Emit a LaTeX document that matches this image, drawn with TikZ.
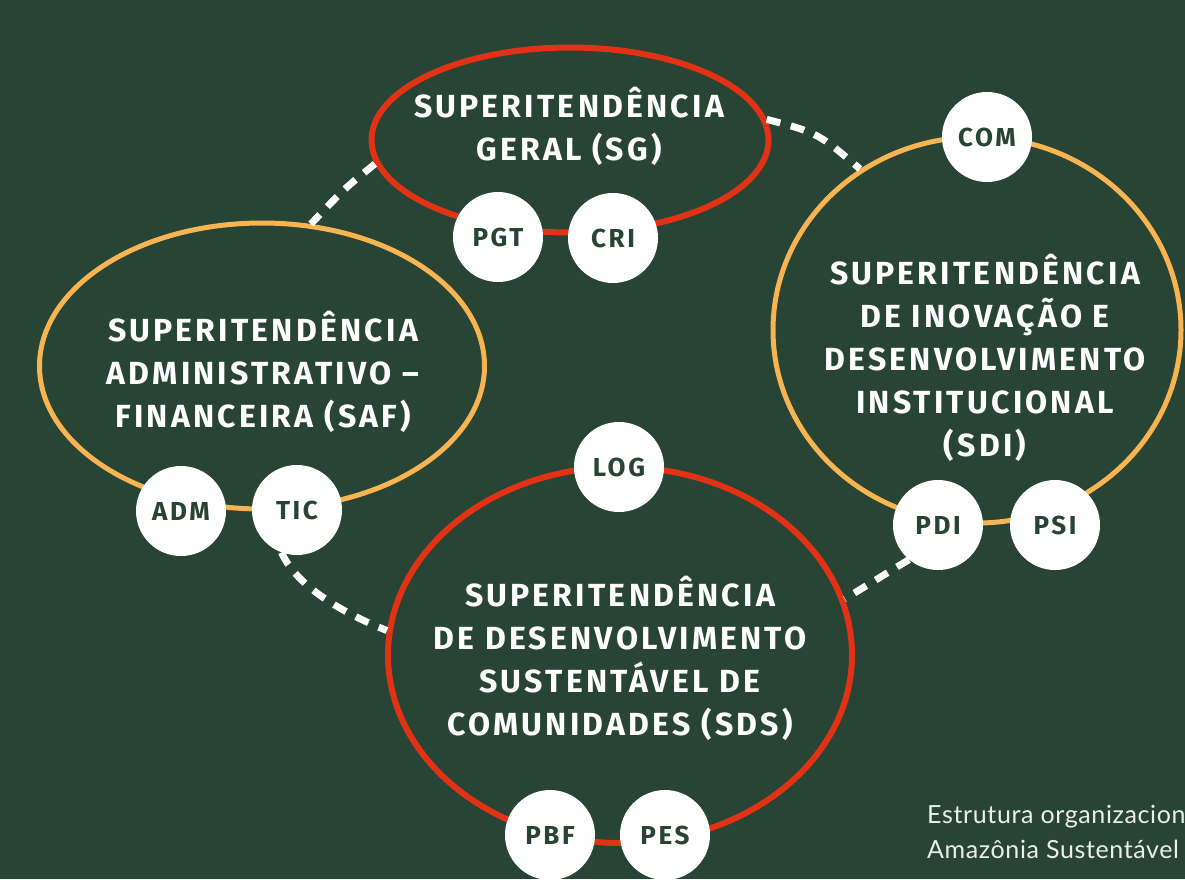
\documentclass[tikz,border=0pt]{standalone}
\usepackage{fontspec}
\usetikzlibrary{shapes.geometric}
\newfontfamily\headfont{Fira Sans}[LetterSpace=10]
\newfontfamily\notefont{Lato}[LetterSpace=2.5]
\definecolor{board}{RGB}{39,68,53}
\definecolor{ringred}{RGB}{226,50,22}
\definecolor{ringgold}{RGB}{248,180,80}
\definecolor{chalk}{RGB}{236,238,234}

\tikzset{
  ring/.style={ellipse, draw, line width=6pt, inner sep=0pt},
  redring/.style={ring, draw=ringred},
  goldring/.style={ring, draw=ringgold, line width=5pt},
  title/.style={text=white, align=center, inner sep=0pt,
    font=\headfont\bfseries\fontsize{32}{43}\selectfont},
  unit/.style={circle, fill=white, minimum size=90pt, inner sep=0pt,
    text=board, font=\headfont\bfseries\fontsize{26}{26}\selectfont},
  link/.style={white, line width=7pt, dash pattern=on 14pt off 11pt},
  note/.style={text=chalk, align=left, inner sep=0pt,
    font=\notefont\fontsize{25}{35}\selectfont},
}

\begin{document}
\begin{tikzpicture}[x=1pt,y=-1pt]
\fill[board] (0,0) rectangle (1185,879);
\useasboundingbox (0,0) rectangle (1185,879);

% superintendencias
\node[redring, minimum width=397pt, minimum height=185pt] (sg) at (570,140) {};
\node[goldring, minimum width=445pt, minimum height=286pt] (saf) at (262,366) {};
\node[goldring, minimum width=408pt, minimum height=386pt] (sdi) at (977,330) {};
\node[redring, minimum width=464pt, minimum height=376pt] (sds) at (620,655) {};

\node[title] (sgtxt) at (569,126) {SUPERITENDÊNCIA\\GERAL (SG)};
\node[title] (saftxt) at (263,372) {SUPERITENDÊNCIA\\ADMINISTRATIVO –\\FINANCEIRA (SAF)};
\node[title] (sditxt) at (985,358) {SUPERITENDÊNCIA\\DE INOVAÇÃO E\\DESENVOLVIMENTO\\INSTITUCIONAL\\(SDI)};
\node[title] (sdstxt) at (620,658) {SUPERITENDÊNCIA\\DE DESENVOLVIMENTO\\SUSTENTÁVEL DE\\COMUNIDADES (SDS)};

% unidades
\node[unit] (pgt) at (498,237) {PGT};
\node[unit] (cri) at (613,238) {CRI};
\node[unit] (adm) at (181,511) {ADM};
\node[unit] (tic) at (297,510) {TIC};
\node[unit] (com) at (987,137) {COM};
\node[unit] (pdi) at (938,525) {PDI};
\node[unit] (psi) at (1055,525) {PSI};
\node[unit] (log) at (619,467) {LOG};
\node[unit] (pbf) at (550,835) {PBF};
\node[unit] (pes) at (665,835) {PES};

% ligacoes
\draw[link] (sg.187) .. controls (345,188) .. (saf.71);
\draw[link] (sg.6) .. controls (818,133) .. (sdi.126);
\draw[link] (tic.250) .. controls (296,585) and (340,612) .. (sds.174);
\draw[link] (pdi.230) -- (sds.14);

\node[note, anchor=north west] (credit) at (927,805) {Estrutura organizacion\\Amazônia Sustentável};
\end{tikzpicture}
\end{document}
